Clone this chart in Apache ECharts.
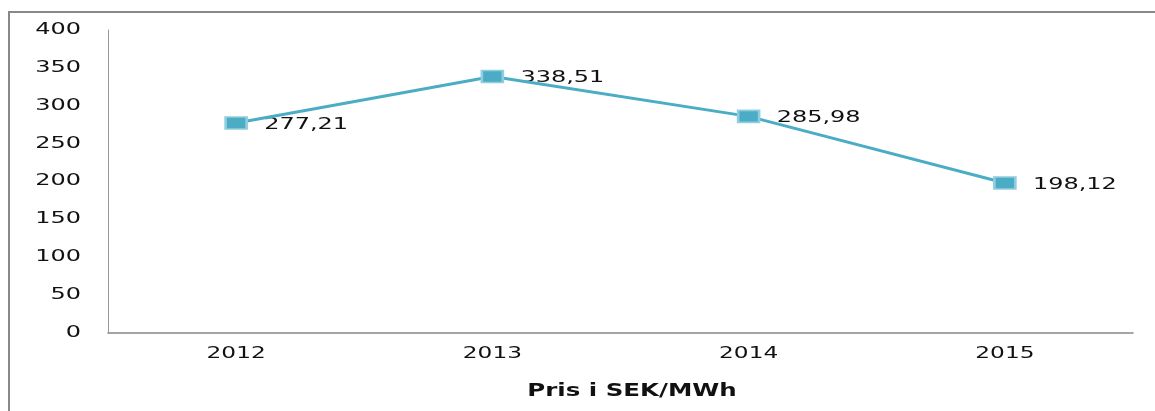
<!DOCTYPE html>
<html>
<head>
<meta charset="utf-8">
<script src="https://cdn.jsdelivr.net/npm/echarts@6/dist/echarts.min.js"></script>
<style>
	html, body { margin: 0; padding: 0; background: #fff; overflow: hidden; }
	#chart { width: 1155px; height: 411px; }
</style>
</head>
<body>
<div id="chart"></div>
<script>
	var years = ["2012", "2013", "2014", "2015"];
	var prices = [277.21, 338.51, 285.98, 198.12];
	var yTicks = [0, 50, 100, 150, 200, 250, 300, 350, 400];
	var title = "Pris i SEK/MWh";

	var chart = echarts.init(document.getElementById("chart"));

	var fmt = function(v) {
		return v.toFixed(2).replace(".", ",");
	};

	// the original text is drawn wide, so labels are graphic texts with a horizontal stretch
	var wideText = function(text, x, y, align, size, stretch, bold) {
		return {
			type: "text",
			x: x,
			y: y,
			scaleX: stretch,
			silent: true,
			style: {
				text: text,
				fill: "#111",
				font: (bold ? "bold " : "") + size + "px 'DejaVu Sans'",
				textAlign: align,
				textVerticalAlign: "middle"
			}
		};
	};

	chart.setOption({
		animation: false,
		textStyle: { fontFamily: "DejaVu Sans" },
		grid: { left: 108, right: 22, top: 30, bottom: 78 },
		xAxis: {
			type: "category",
			data: years,
			boundaryGap: true,
			axisLine: { lineStyle: { color: "#888", width: 1.5 } },
			axisTick: { show: false },
			axisLabel: { show: false }
		},
		yAxis: {
			type: "value",
			min: 0,
			max: 400,
			interval: 50,
			splitLine: { show: false },
			axisLine: { show: true, lineStyle: { color: "#999", width: 1 } },
			axisTick: { show: false },
			axisLabel: { show: false }
		},
		series: [{
			type: "line",
			data: prices,
			symbol: "rect",
			symbolSize: [21, 12],
			lineStyle: { color: "#4bacc6", width: 3 },
			itemStyle: { color: "#4bacc6", borderColor: "#92cddd", borderWidth: 2 }
		}]
	});

	var texts = [{
		type: "polyline",
		silent: true,
		shape: { points: [[9, 420], [9, 12], [1170, 12]] },
		style: { fill: "none", stroke: "#888", lineWidth: 2 }
	}];

	yTicks.forEach(function(v) {
		var py = chart.convertToPixel({ yAxisIndex: 0 }, v);
		texts.push(wideText(String(v), 81, py, "right", 15, 1.6));
	});

	years.forEach(function(y) {
		var px = chart.convertToPixel({ xAxisIndex: 0 }, y);
		texts.push(wideText(y, px, 354, "center", 15, 1.55));
	});

	prices.forEach(function(v, i) {
		var p = chart.convertToPixel({ seriesIndex: 0 }, [i, v]);
		texts.push(wideText(fmt(v), p[0] + 28, p[1] + 2, "left", 15, 1.6));
	});

	texts.push(wideText(title, 632, 391, "center", 18, 1.36, true));

	chart.setOption({ graphic: texts });
</script>
</body>
</html>
